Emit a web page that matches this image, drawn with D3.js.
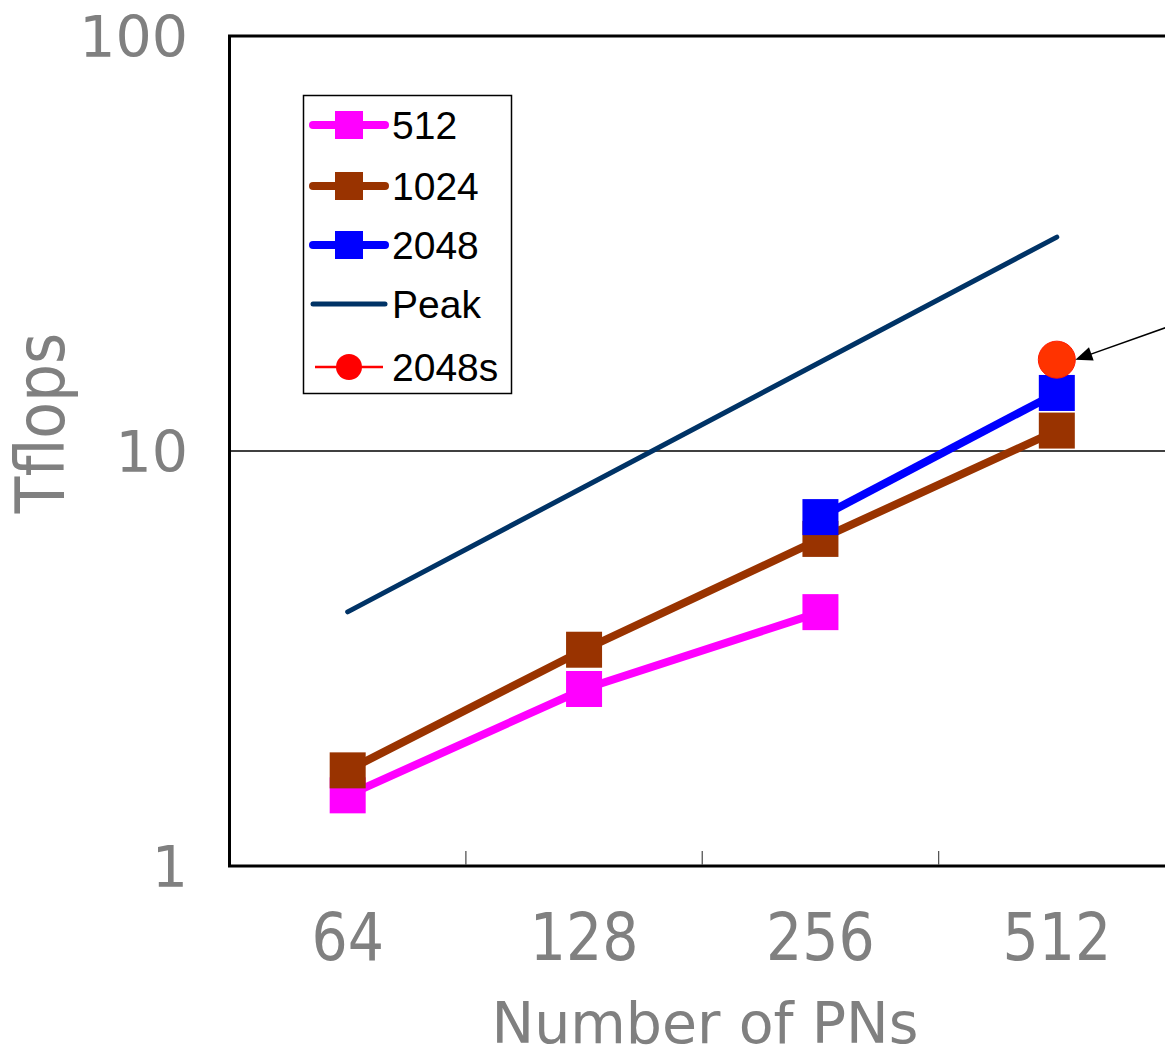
<!DOCTYPE html>
<html><head><meta charset="utf-8">
<script src="https://cdn.jsdelivr.net/npm/d3@7"></script>
<style>body{margin:0;background:#fff;overflow:hidden}svg{display:block}</style>
</head><body>
<svg id="c" width="1165" height="1059"></svg>
<script>
const categories = ["64","128","256","512"];
const s512  = [1.48, 2.67, 4.09, null];
const s1024 = [1.70, 3.32, 6.14, 11.2];
const s2048 = [null, null, 6.93, 13.8];
const peak  = [4.096, 8.192, 16.384, 32.768];
const s2048s = [null, null, null, 16.6];
const yTicks = [1, 10, 100];
const seriesNames = ["512","1024","2048","Peak","2048s"];

const svg = d3.select("#c");
const x = d3.scaleBand().domain(categories).range([229.5, 1175]).padding(0);
const y = d3.scaleLog().domain([1, 100]).range([866, 36]);
const cx = c => x(c) + x.bandwidth()/2;
const gray = "#808080";
const labelFont = "'DejaVu Sans', Tahoma, sans-serif";
const vs = (yy) => `translate(0,${yy}) scale(1,1.14) translate(0,${-yy})`;

// gridline at 10
svg.append("line").attr("x1",229.5).attr("x2",1175).attr("y1",y(10)).attr("y2",y(10))
  .attr("stroke","#000").attr("stroke-width",1.3);
// plot frame (top/left/bottom; right side falls off the canvas)
svg.append("rect").attr("x",229.5).attr("y",y(100)).attr("width",1175-229.5).attr("height",y(1)-y(100))
  .attr("fill","none").attr("stroke","#000").attr("stroke-width",3);

// x axis ticks (inside, at band boundaries)
const xb = categories.slice(1).map(c => x(c));
svg.selectAll(".xt").data(xb).enter().append("line")
  .attr("x1",d=>d).attr("x2",d=>d).attr("y1",y(1)-1).attr("y2",y(1)-15)
  .attr("stroke","#555").attr("stroke-width",1.3);

// y tick labels
svg.selectAll(".yl").data(yTicks).enter().append("text")
  .attr("x",188).attr("y",d=>y(d)+21).attr("text-anchor","end")
  .attr("font-family",labelFont).attr("font-size",57).attr("fill",gray)
  .text(d=>d);
// x tick labels
svg.selectAll(".xl").data(categories).enter().append("text")
  .attr("x",d=>cx(d)).attr("y",960).attr("text-anchor","middle")
  .attr("font-family",labelFont).attr("font-size",57).attr("fill",gray)
  .attr("transform",vs(960))
  .text(d=>d);
// axis titles
svg.append("text").attr("x",705).attr("y",1043).attr("text-anchor","middle")
  .attr("font-family",labelFont).attr("font-size",57).attr("fill",gray)
  .text("Number of PNs");
svg.append("text").attr("transform","translate(64,423) rotate(-90) scale(1,1.12)").attr("text-anchor","middle")
  .attr("font-family",labelFont).attr("font-size",60).attr("fill",gray).text("Tflops");

const lineGen = d3.line().defined(d=>d.v!=null).x(d=>cx(d.c)).y(d=>y(d.v));
const toPts = arr => categories.map((c,i)=>({c, v: arr[i]}));

// peak line
svg.append("path").attr("d",lineGen(toPts(peak))).attr("fill","none")
  .attr("stroke","#003366").attr("stroke-width",5).attr("stroke-linecap","round");

const series = [
  {data:s512, color:"#FF00FF"},
  {data:s1024, color:"#993300"},
  {data:s2048, color:"#0000FF"}
];
series.forEach(s=>{
  svg.append("path").attr("d",lineGen(toPts(s.data))).attr("fill","none")
    .attr("stroke",s.color).attr("stroke-width",8);
});
series.forEach(s=>{
  svg.selectAll(null).data(toPts(s.data).filter(d=>d.v!=null)).enter().append("rect")
    .attr("x",d=>cx(d.c)-18).attr("y",d=>y(d.v)-18).attr("width",36).attr("height",36)
    .attr("fill",s.color);
});
// 2048s point
svg.selectAll(null).data(toPts(s2048s).filter(d=>d.v!=null)).enter().append("circle")
  .attr("cx",d=>cx(d.c)).attr("cy",d=>y(d.v)).attr("r",18.5)
  .attr("fill","#FF3300").attr("stroke","#FF1a00").attr("stroke-width",1);

// arrow annotation
const tip = {x: cx("512")+18.5, y: y(16.6)};
svg.append("line").attr("x1",1205).attr("y1",tip.y-46).attr("x2",tip.x+10).attr("y2",tip.y-3.5)
  .attr("stroke","#000").attr("stroke-width",1.5);
svg.append("path").attr("d",()=>{
  const ang = Math.atan2(-46, 1205-tip.x);
  const L=17, W=7;
  const bx = tip.x + L*Math.cos(ang), by = tip.y + L*Math.sin(ang);
  const px = -Math.sin(ang)*W, py = Math.cos(ang)*W;
  return `M${tip.x},${tip.y} L${bx+px},${by+py} L${bx-px},${by-py} Z`;
}).attr("fill","#000");

// legend
const lg = svg.append("g");
lg.append("rect").attr("x",303.5).attr("y",95.5).attr("width",208).attr("height",298)
  .attr("fill","#fff").attr("stroke","#000").attr("stroke-width",1.5);
const legendStyles = [
  {color:"#FF00FF", w:8, mark:"sq"},
  {color:"#993300", w:8, mark:"sq"},
  {color:"#0000FF", w:8, mark:"sq"},
  {color:"#003366", w:5, mark:null},
  {color:"#FF0000", w:2.5, mark:"ci"}
];
const rowY = [125, 186, 245, 304, 367];
seriesNames.forEach((n,i)=>{
  const st = legendStyles[i], yy = rowY[i];
  lg.append("line").attr("x1",i===4?315:313).attr("x2",i===4?383:385).attr("y1",yy).attr("y2",yy)
    .attr("stroke",st.color).attr("stroke-width",st.w).attr("stroke-linecap",i===4?"butt":"round");
  if (st.mark==="sq") lg.append("rect").attr("x",335).attr("y",yy-14).attr("width",28).attr("height",28).attr("fill",st.color);
  if (st.mark==="ci") lg.append("circle").attr("cx",349).attr("cy",yy).attr("r",13).attr("fill",st.color);
  lg.append("text").attr("x",392).attr("y",yy+14).attr("font-family","'Liberation Sans', Arial, sans-serif")
    .attr("font-size",39).attr("fill","#000").text(n);
});
</script>
</body></html>
